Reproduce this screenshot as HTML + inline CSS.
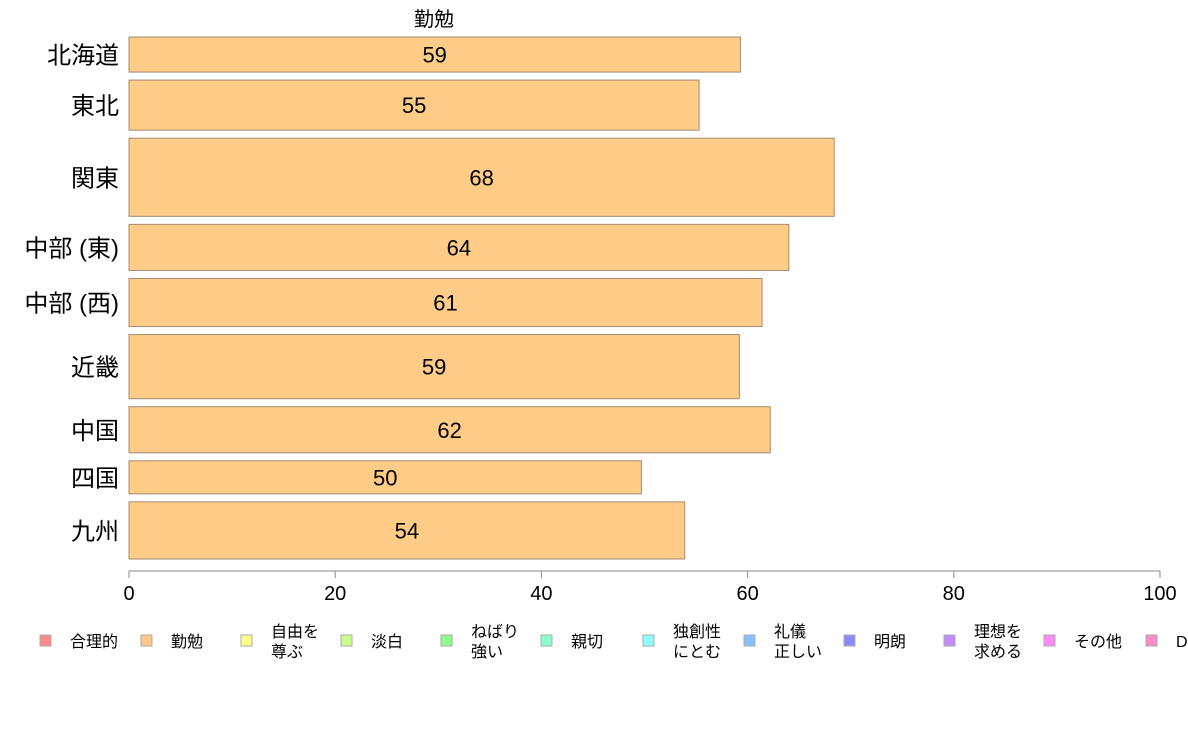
<!DOCTYPE html>
<html><head><meta charset="utf-8"><style>
body{margin:0;background:#fff;font-family:"Liberation Sans","Noto Sans CJK JP",sans-serif;}
svg text{font-family:"Liberation Sans","Noto Sans CJK JP",sans-serif;}
</style></head><body>
<svg id="c" width="1188" height="736"></svg>
<script>
(function(){
const categories=["北海道","東北","関東","中部 (東)","中部 (西)","近畿","中国","四国","九州"];
const values=[59.3,55.3,68.4,64.0,61.4,59.2,62.2,49.7,53.9];
const weights=[35,50,78,46,48,64,46,33,57];
const ticks=[0,20,40,60,80,100];
const legendLabels=[["合理的"],["勤勉"],["自由を","尊ぶ"],["淡白"],["ねばり","強い"],["親切"],["独創性","にとむ"],["礼儀","正しい"],["明朗"],["理想を","求める"],["その他"],["D"]];
const legendColors=["#ff8a8a","#ffc98a","#ffff8a","#c9ff8a","#8aff8a","#8affc9","#8affff","#8ac0ff","#8a8aff","#c08aff","#ff8aff","#ff8ac9"];
const legendX=[40,141,241,341,441,541,643,744,844,944,1044,1146];
const NS="http://www.w3.org/2000/svg",svg=document.getElementById('c');
function el(t,a,txt){const e=document.createElementNS(NS,t);for(const k in a)e.setAttribute(k,a[k]);if(txt!=null)e.textContent=txt;svg.appendChild(e);return e;}
const x0=129,x1=1160,xs=v=>x0+(v/100)*(x1-x0);
const plotTop=37,plotBottom=559,gap=8;
const tw=weights.reduce((a,b)=>a+b,0),unit=(plotBottom-plotTop-gap*(weights.length-1))/tw;
let t=el('text',{x:434,y:26,'font-size':20,'text-anchor':'middle'},'勤勉');


let y=plotTop;
categories.forEach((c,i)=>{
 const h=weights[i]*unit;
 const r=el('rect',{x:x0,y:y,width:xs(values[i])-x0,height:h,fill:'#ffcc88',stroke:'#a08c70','stroke-width':1});
 
 
 const v=el('text',{x:(x0+xs(values[i]))/2,y:y+h/2+8,'font-size':22,'text-anchor':'middle'},String(Math.round(values[i])));
 
 
 const l=el('text',{x:119,y:y+h/2+9,'font-size':24,'text-anchor':'end'},c);
 
 
 y+=h+gap;
});
const ax=el('line',{x1:x0,x2:x1,y1:571,y2:571,stroke:'#888'});


ticks.forEach(v=>{
 const tk=el('line',{x1:xs(v),x2:xs(v),y1:571,y2:578,stroke:'#888'});
 
 
 const tl=el('text',{x:xs(v),y:600,'font-size':20,'text-anchor':'middle'},String(v));
 
 
});
legendLabels.forEach((lab,i)=>{
 const g=legendX[i];
 const s=el('rect',{x:g,y:635,width:11,height:11,fill:legendColors[i],stroke:'#aaa'});
 
 
 lab.forEach((line,j)=>{
  const yy=lab.length==1?647:637+j*20;
  const lt=el('text',{x:g+30,y:yy,'font-size':16},line);
  
  
 });
});
})();
</script>
</body></html>
